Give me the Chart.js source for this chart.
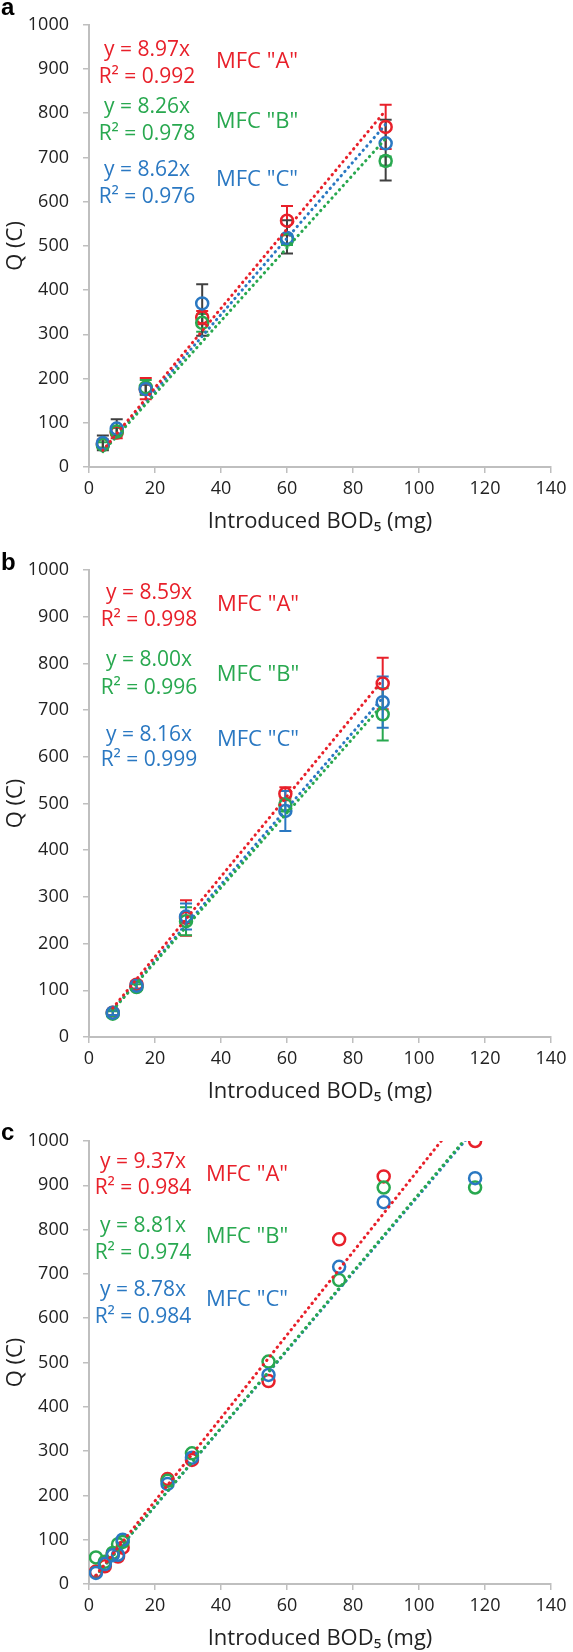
<!DOCTYPE html>
<html><head><meta charset="utf-8">
<script src="https://cdn.jsdelivr.net/npm/chart.js@4.4.0/dist/chart.umd.min.js"></script>
<style>
html,body{margin:0;padding:0;background:#fff;width:573px;height:1652px;overflow:hidden}
.wrap{position:absolute;left:0;width:573px}
canvas{display:block}
</style></head><body>
<div class="wrap" style="top:0px"><canvas id="ca" width="573" height="550"></canvas></div>
<div class="wrap" style="top:545px"><canvas id="cb" width="573" height="560"></canvas></div>
<div class="wrap" style="top:1105px"><canvas id="cc" width="573" height="547"></canvas></div>
<script>
// ---------- data ----------
const seriesNames = ['MFC "A"', 'MFC "B"', 'MFC "C"'];
const xTickStep = 20, xMax = 140, yTickStep = 100, yMax = 1000;

// panel a
const xA      = [4.2, 8.4, 17.2, 34.3, 60.0, 89.9];
const redA    = [52, 78, 176, 338, 557, 769];
const greenA  = [50, 80, 180, 326, 514, 692];
const blueA   = [54, 87, 176, 370, 518, 732];
const redUpA  = [10, 13, 25, 15, 33, 50];
const redDnA  = [10, 13, 23, 15, 33, 50];
const greenUpA = [6, 8, 17, 20, 12, 10];
const greenDnA = [6, 8, 17, 20, 12, 10];
const blueUpA = [17, 21, 10, 43, 40, 53];
const blueDnA = [16, 15, 10, 73, 35, 84];
const slopesA = [8.97, 8.26, 8.62];
const r2A     = ['0.992', '0.978', '0.976'];

// panel b
const xB      = [7.2, 14.4, 29.4, 59.5, 89.0];
const redB    = [52, 112, 255, 521, 757];
const greenB  = [50, 107, 248, 497, 691];
const blueB   = [52, 110, 258, 484, 717];
const redErrB   = [5, 8, 38, 14, 55];
const greenErrB = [5, 6, 30, 14, 56];
const blueErrB  = [5, 8, 28, 43, 55];
const slopesB = [8.59, 8.00, 8.16];
const r2B     = ['0.998', '0.996', '0.999'];

// panel c
const xC      = [2.1, 4.8, 7.2, 8.8, 10.2, 23.8, 31.2, 54.4, 75.8, 89.3, 117.0];
const redC    = [28, 40, 68, 62, 82, 237, 280, 458, 778, 920, 1000];
const greenC  = [60, 50, 70, 90, 95, 233, 295, 502, 686, 895, 895];
const blueC   = [25, 45, 65, 66, 100, 226, 285, 472, 716, 862, 916];
const slopesC = [9.37, 8.81, 8.78];
const r2C     = ['0.984', '0.974', '0.984'];

// ---------- styling ----------
const COLORS = ['#E8202A', '#28A84F', '#2A78C2'];
const FONT = '"Open Sans", "Noto Sans", sans-serif';
Chart.defaults.font.family = FONT;

const errorBars = {
  id: 'errorBars',
  beforeDatasetsDraw(chart) {
    const ctx = chart.ctx, xs = chart.scales.x, ys = chart.scales.y;
    chart.data.datasets.forEach(ds => {
      if (!ds.errUp) return;
      ctx.save();
      ctx.strokeStyle = ds.errColor;
      ctx.lineWidth = 2;
      ds.data.forEach((p, j) => {
        const px = xs.getPixelForValue(p.x);
        const yt = ys.getPixelForValue(p.y + ds.errUp[j]);
        const yb = ys.getPixelForValue(p.y - ds.errDown[j]);
        ctx.beginPath();
        ctx.moveTo(px, yt); ctx.lineTo(px, yb);
        ctx.moveTo(px - 6, yt); ctx.lineTo(px + 6, yt);
        ctx.moveTo(px - 6, yb); ctx.lineTo(px + 6, yb);
        ctx.stroke();
      });
      ctx.restore();
    });
  }
};

const notes = {
  id: 'notes',
  afterDraw(chart, args, opts) {
    const ctx = chart.ctx, a = chart.chartArea;
    ctx.save();
    ctx.textAlign = 'center';
    ctx.textBaseline = 'middle';
    opts.items.forEach(it => {
      ctx.font = it.size + 'px ' + FONT;
      ctx.fillStyle = it.color;
      ctx.fillText(it.text, a.left + it.dx, a.top + it.dy);
    });
    ctx.font = 'bold 24px "Liberation Sans", Arial, sans-serif';
    ctx.fillStyle = '#000';
    ctx.textAlign = 'left';
    ctx.textBaseline = 'alphabetic';
    ctx.fillText(opts.letter, 1, opts.letterY);
    ctx.restore();
  }
};

function pts(xs, ys) { return xs.map((x, i) => ({ x: x, y: ys[i] })); }

function makeChart(id, cfg) {
  const datasets = [];
  const xmin = Math.min(...cfg.x), xmax = Math.max(...cfg.x);
  // trendlines (on top)
  cfg.slopes.forEach((s, i) => {
    datasets.push({
      type: 'scatter', showLine: true, order: 0,
      data: [{ x: xmin, y: s * xmin }, { x: xmax, y: s * xmax }],
      borderColor: COLORS[i], borderWidth: 3, borderDash: [0.4, 5.2],
      borderCapStyle: 'round', pointRadius: 0, fill: false
    });
  });
  cfg.series.forEach((ys, i) => {
    const d = {
      type: 'scatter', order: 3 - i, label: seriesNames[i],
      data: pts(cfg.x, ys),
      pointRadius: 6, pointBorderWidth: 2.5,
      borderColor: COLORS[i], backgroundColor: 'rgba(0,0,0,0)',
      pointBackgroundColor: 'rgba(0,0,0,0)', pointBorderColor: COLORS[i]
    };
    if (cfg.errUp) {
      d.errUp = cfg.errUp[i]; d.errDown = cfg.errDown[i];
      d.errColor = cfg.errColors[i];
    }
    datasets.push(d);
  });
  const items = [];
  cfg.slopes.forEach((s, i) => {
    const p = cfg.notePos[i];
    items.push({ text: 'y = ' + s.toFixed(2) + 'x', color: COLORS[i], size: 21, dx: p[0], dy: p[1] });
    items.push({ text: 'R\u00B2 = ' + cfg.r2[i], color: COLORS[i], size: 21, dx: p[0], dy: p[2] });
    items.push({ text: seriesNames[i], color: COLORS[i], size: 22, dx: p[3], dy: p[4] });
  });
  const axisCommon = {
    grid: { drawOnChartArea: false, tickLength: 6, color: '#BFBFBF', lineWidth: 1.5 },
    border: { color: '#BFBFBF', width: 2 }
  };
  return new Chart(document.getElementById(id), {
    type: 'scatter',
    data: { datasets },
    plugins: [errorBars, notes],
    options: {
      responsive: false, animation: false,
      layout: { padding: { top: cfg.padTop, right: 22, bottom: cfg.padBottom, left: 0 } },
      plugins: {
        legend: { display: false }, tooltip: { enabled: false },
        notes: { items: items, letter: cfg.letter, letterY: cfg.letterY }
      },
      scales: {
        x: Object.assign({
          type: 'linear', min: 0, max: xMax,
          ticks: { stepSize: xTickStep, color: '#222', font: { size: 18 }, padding: 5, maxRotation: 0,
                   callback: v => String(v) },
          title: { display: true, text: 'Introduced BOD\u2085 (mg)', color: '#222', font: { size: 22 }, padding: { top: 0, bottom: 0 } },
          afterFit: s => { s.height = 68; }
        }, axisCommon),
        y: Object.assign({
          type: 'linear', min: 0, max: yMax,
          ticks: { stepSize: yTickStep, color: '#222', font: { size: 18 }, padding: 14,
                   callback: v => String(v) },
          title: { display: true, text: 'Q (C)', color: '#222', font: { size: 22 }, padding: { top: 3, bottom: 0 } },
          afterFit: s => { s.width = 89; }
        }, axisCommon)
      }
    }
  });
}

makeChart('ca', {
  x: xA, series: [redA, greenA, blueA],
  errUp: [redUpA, greenUpA, blueUpA], errDown: [redDnA, greenDnA, blueDnA],
  errColors: [COLORS[0], COLORS[1], '#404040'],
  slopes: slopesA, r2: r2A,
  notePos: [[58, 25, 52, 168, 37], [58, 82, 109, 168, 97], [58, 145, 172, 168, 155]],
  letter: 'a', letterY: 15, padTop: 16, padBottom: 15
});
makeChart('cb', {
  x: xB, series: [redB, greenB, blueB],
  errUp: [redErrB, greenErrB, blueErrB], errDown: [redErrB, greenErrB, blueErrB],
  errColors: COLORS,
  slopes: slopesB, r2: r2B,
  notePos: [[60, 23, 50, 169, 35], [60, 90, 118, 169, 105], [60, 165, 190, 169, 170]],
  letter: 'b', letterY: 25, padTop: 25, padBottom: 0
});
makeChart('cc', {
  x: xC, series: [redC, greenC, blueC],
  slopes: slopesC, r2: r2C,
  notePos: [[54, 21, 47, 158, 34], [54, 85, 112, 158, 96], [54, 149, 176, 158, 159]],
  letter: 'c', letterY: 35, padTop: 36, padBottom: 0
});
</script>
</body></html>
